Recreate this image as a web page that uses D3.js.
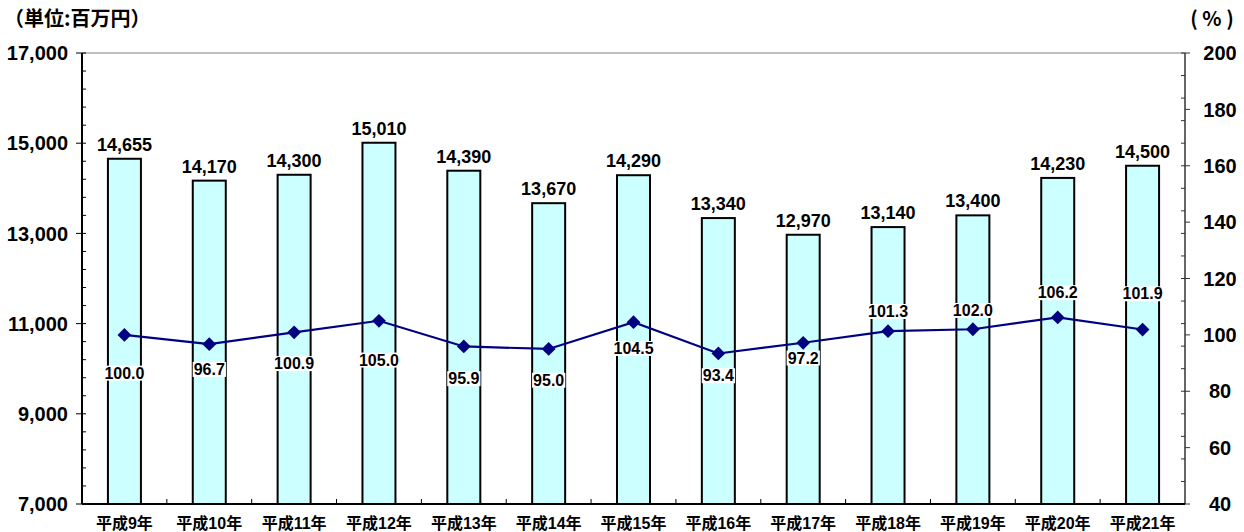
<!DOCTYPE html>
<html lang="ja">
<head>
<meta charset="UTF-8">
<script src="https://d3js.org/d3.v7.min.js"></script>
<style>
    body, html {
        margin: 0;
        width: 100%;
        height: 100%;
        overflow: hidden;
        background: #fff;
        font-family: "Liberation Sans", Arial, "Noto Sans CJK JP", sans-serif;
    }
    .tick-label { font-size: 20px; font-weight: bold; fill: #000; }
    .cat-label { font-size: 16px; font-weight: bold; fill: #000; }
    .bar-label { font-size: 18px; font-weight: bold; fill: #000; text-anchor: middle; }
    .line-label { font-size: 16px; font-weight: bold; fill: #000; text-anchor: middle; }
    .unit { font-size: 20px; font-weight: bold; fill: #000; font-family: "Noto Sans CJK JP", sans-serif; }
</style>
</head>
<body>
<div id="chart"></div>
<script>
    // 年度
    const years = ["平成9年", "平成10年", "平成11年", "平成12年", "平成13年", "平成14年", "平成15年",
                   "平成16年", "平成17年", "平成18年", "平成19年", "平成20年", "平成21年"];
    // 金額（百万円）
    const amounts = [14655, 14170, 14300, 15010, 14390, 13670, 14290, 13340, 12970, 13140, 13400, 14230, 14500];
    // 前年比（%）
    const ratios = [100.0, 96.7, 100.9, 105.0, 95.9, 95.0, 104.5, 93.4, 97.2, 101.3, 102.0, 106.2, 101.9];
    const leftTicks = [7000, 9000, 11000, 13000, 15000, 17000];
    const rightTicks = [40, 60, 80, 100, 120, 140, 160, 180, 200];

    // ラベルの縦位置ずらし（px）
    const labelDy = [38, 25, 31, 39, 32, 31, 26, 22, 15, -20, -19, -25, -36];

    const W = 1244, H = 532;
    const m = {top: 53, right: 59, bottom: 28, left: 82};
    const w = W - m.left - m.right, h = H - m.top - m.bottom;

    const svg = d3.select("#chart").append("svg")
        .attr("width", W).attr("height", H);
    const g = svg.append("g").attr("transform", `translate(${m.left},${m.top})`);

    const x = d3.scaleBand().domain(years).range([0, w]);
    const yL = d3.scaleLinear().domain([7000, 17000]).range([h, 0]);
    const yR = d3.scaleLinear().domain([40, 200]).range([h, 0]);
    const cx = i => x(years[i]) + x.bandwidth() / 2;

    // 枠（上辺）
    g.append("line").attr("x1", 0).attr("x2", w).attr("y1", 0).attr("y2", 0)
        .attr("stroke", "#808080").attr("stroke-width", 1.2);

    // 棒
    const barW = 33;
    g.selectAll(".bar").data(amounts).enter().append("rect")
        .attr("x", (d, i) => cx(i) - barW / 2)
        .attr("y", d => yL(d))
        .attr("width", barW)
        .attr("height", d => h - yL(d))
        .attr("fill", "#CCFFFF")
        .attr("stroke", "#000")
        .attr("stroke-width", 2);

    g.selectAll(".bar-label").data(amounts).enter().append("text")
        .attr("class", "bar-label")
        .attr("x", (d, i) => cx(i))
        .attr("y", d => yL(d) - 8)
        .text(d => d3.format(",")(d));

    // 左軸
    const minorL = d3.range(7000, 17001, 400);
    g.append("line").attr("x1", 0).attr("x2", 0).attr("y1", 0).attr("y2", h)
        .attr("stroke", "#000").attr("stroke-width", 2);
    g.selectAll(".minorL").data(minorL).enter().append("line")
        .attr("x1", 0).attr("x2", 4).attr("y1", d => yL(d)).attr("y2", d => yL(d))
        .attr("stroke", "#000").attr("stroke-width", 1);
    g.selectAll(".majorL").data(leftTicks).enter().append("line")
        .attr("x1", -6).attr("x2", 0).attr("y1", d => yL(d)).attr("y2", d => yL(d))
        .attr("stroke", "#000").attr("stroke-width", 1);
    g.selectAll(".labL").data(leftTicks).enter().append("text")
        .attr("class", "tick-label")
        .attr("x", -14).attr("y", d => yL(d)).attr("dy", "0.36em")
        .attr("text-anchor", "end")
        .text(d => d3.format(",")(d));

    // 右軸
    const minorR = d3.range(40, 201, 8);
    g.append("line").attr("x1", w).attr("x2", w).attr("y1", 0).attr("y2", h)
        .attr("stroke", "#333").attr("stroke-width", 1.5);
    g.selectAll(".minorR").data(minorR).enter().append("line")
        .attr("x1", w - 4).attr("x2", w).attr("y1", d => yR(d)).attr("y2", d => yR(d))
        .attr("stroke", "#333").attr("stroke-width", 1);
    g.selectAll(".majorR").data(rightTicks).enter().append("line")
        .attr("x1", w).attr("x2", w + 5).attr("y1", d => yR(d)).attr("y2", d => yR(d))
        .attr("stroke", "#333").attr("stroke-width", 1);
    g.selectAll(".labR").data(rightTicks).enter().append("text")
        .attr("class", "tick-label")
        .attr("x", w + 35).attr("y", d => yR(d)).attr("dy", "0.36em")
        .attr("text-anchor", "middle")
        .text(d => d);

    // 下軸
    g.append("line").attr("x1", 0).attr("x2", w).attr("y1", h).attr("y2", h)
        .attr("stroke", "#000").attr("stroke-width", 2);
    g.selectAll(".xt").data(years.slice(1)).enter().append("line")
        .attr("x1", d => x(d)).attr("x2", d => x(d)).attr("y1", h).attr("y2", h - 5)
        .attr("stroke", "#000").attr("stroke-width", 1);
    g.selectAll(".cat-label").data(years).enter().append("text")
        .attr("class", "cat-label")
        .attr("x", d => x(d) + x.bandwidth() / 2)
        .attr("y", h + 25)
        .attr("text-anchor", "middle")
        .text(d => d);

    // 折れ線
    const line = d3.line()
        .x((d, i) => cx(i))
        .y(d => yR(d));
    g.append("path").datum(ratios)
        .attr("d", line)
        .attr("fill", "none")
        .attr("stroke", "#000080")
        .attr("stroke-width", 2.2);
    g.selectAll(".pt").data(ratios).enter().append("path")
        .attr("d", d3.symbol().type(d3.symbolSquare).size(95))
        .attr("transform", (d, i) => `translate(${cx(i)},${yR(d)}) rotate(45)`)
        .attr("fill", "#000080");

    const lbl = g.selectAll(".ll").data(ratios).enter().append("g")
        .attr("transform", (d, i) => `translate(${cx(i)},${yR(d) + labelDy[i]})`);
    lbl.append("text")
        .attr("class", "line-label")
        .attr("dy", "0.36em")
        .text(d => d.toFixed(1));
    lbl.each(function() {
        const t = d3.select(this).select("text");
        const b = t.node().getBBox();
        d3.select(this).insert("rect", "text")
            .attr("x", b.x - 1).attr("y", b.y + 1).attr("width", b.width + 2).attr("height", b.height - 2)
            .attr("fill", "#fff");
    });

    // 単位
    svg.append("text").attr("class", "unit").attr("x", 4).attr("y", 26).text("（単位:百万円）");
    svg.append("text").attr("class", "unit").attr("x", 1212).attr("y", 26)
        .attr("text-anchor", "middle").text("( % )");
</script>
</body>
</html>
